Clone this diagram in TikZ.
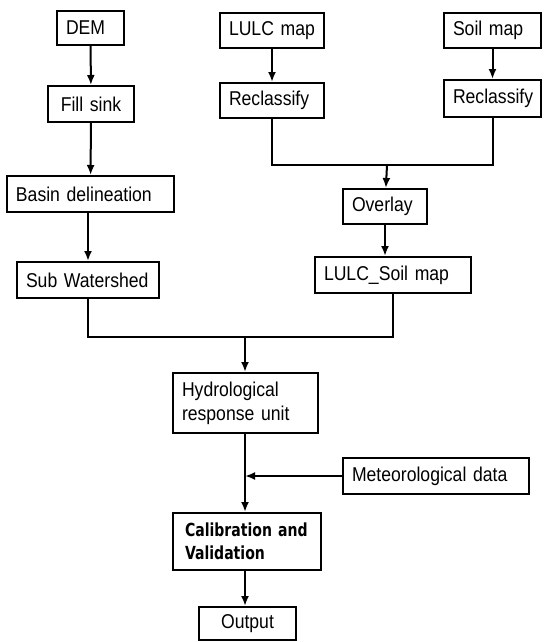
\documentclass[tikz,border=0pt]{standalone}
\usepackage{fontspec}
\setmainfont{Liberation Sans}[FakeStretch=0.88]
\newfontfamily\calibfont{DejaVu Sans Bold}[FakeStretch=0.78]
\usetikzlibrary{arrows.meta}
\tikzset{every picture/.style={line width=2pt}}

\begin{document}
\begin{tikzpicture}[x=1pt,y=1pt,yscale=-1,xscale=1,
  box/.style={draw, line width=2pt, inner xsep=9pt, inner ysep=0pt, minimum height=36pt, align=left, font=\fontsize{20}{24}\selectfont},
  flow/.style={-{Latex[length=10pt,width=8pt]}, line width=2pt}]
\useasboundingbox (0,0) rectangle (544,642);

%Shape: Rectangle [DEM branch]
\node[box, text width=49pt, minimum height=34pt] (dem) at (90.5,28) {DEM};
\node[box, text width=68pt, align=center] (fill) at (91,104) {Fill sink};
\node[box, text width=149pt] (basin) at (90.5,194) {Basin delineation};
\node[box, text width=124pt] (sub) at (88,280) {Sub Watershed};
%Shape: Rectangle [LULC branch]
\node[box, text width=86pt, minimum height=35pt] (lulc) at (272,30.5) {LULC map};
\node[box, text width=86pt, minimum height=35pt] (reclA) at (272,100.5) {Reclassify};
%Shape: Rectangle [Soil branch]
\node[box, text width=79pt, minimum height=35pt] (soil) at (492.5,30.5) {Soil map};
\node[box, text width=79pt, minimum height=37pt] (reclB) at (492.5,98.5) {Reclassify};
\node[box, text width=66pt, minimum height=35pt] (overlay) at (385,206.5) {Overlay};
\node[box, text width=138pt] (lsoil) at (393,275) {LULC\_Soil map};
%Shape: Rectangle [model]
\node[box, text width=127pt, minimum height=60pt] (hru) at (245.5,403) {Hydrological\\response unit};
\node[box, text width=168pt] (met) at (436,476) {Meteorological data};
\node[box, text width=124pt, inner xsep=12pt, minimum height=57pt, font=\calibfont\fontsize{18}{23}\selectfont] (calib) at (247,541.5) {Calibration and\\Validation};
\node[box, text width=79pt, align=center, minimum height=33pt] (out) at (247.5,623.5) {Output};

%Joins
\coordinate (mergeA) at (387,165);
\coordinate (mergeB) at (245,337);

%Straight Lines
\draw[flow] (dem) -- (fill);
\draw[flow] (fill) -- (basin);
\draw[flow] (sub.north |- basin.south) -- (sub.north);
\draw[flow] (lulc) -- (reclA);
\draw[flow] (soil) -- (reclB);
\draw (reclA.south) |- (mergeA) -| (reclB.south);
\draw[flow] (mergeA) -- (overlay);
\draw[flow] (overlay.south) -- (overlay.south |- lsoil.north);
\draw (sub.south) |- (mergeB) -| (lsoil.south);
\draw[flow] (mergeB) -- (mergeB |- hru.north);
\draw[flow] (hru.south -| mergeB) -- (calib.north -| mergeB);
\draw[flow] (met.west) -- (met.west -| mergeB);
\draw[flow] (calib.south -| mergeB) -- (out.north -| mergeB);

\end{tikzpicture}
\end{document}
